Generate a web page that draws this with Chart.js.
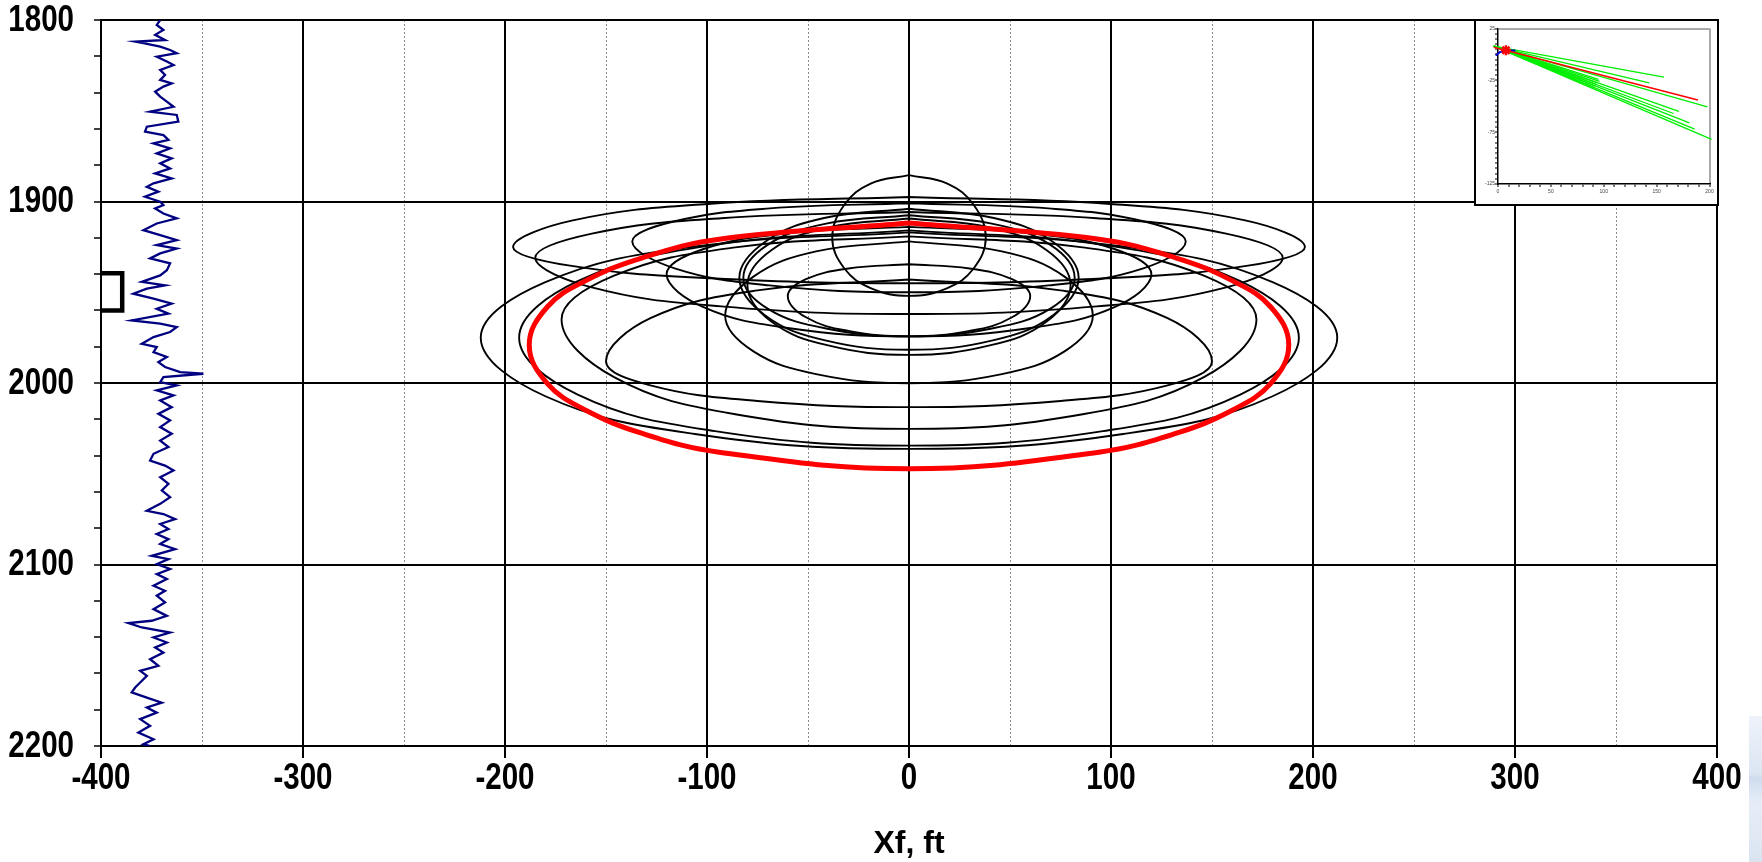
<!DOCTYPE html>
<html>
<head>
<meta charset="utf-8">
<title>Fracture geometry - Xf vs depth</title>
<script src="https://cdn.jsdelivr.net/npm/chart.js@4.4.1/dist/chart.umd.min.js"></script>
<style>
  html, body { margin: 0; padding: 0; background: #fff; }
  #wrap { position: relative; width: 1762px; height: 862px; overflow: hidden; background: #fff; }
  #main { position: absolute; left: 0; top: 0; }
  #insetBox { position: absolute; left: 1474px; top: 19px; width: 241px; height: 183px; border: 2px solid #000; background: #fff; }
  #inset { display: block; }
  #strip { position: absolute; left: 1749px; top: 716px; width: 13px; height: 146px;
           background: linear-gradient(#eef3fa, #dbe5f2 40%, #cfdcee 42%, #e6edf7 60%, #dae4f1); }
</style>
</head>
<body>
<div id="wrap">
  <canvas id="main" width="1762" height="862"></canvas>
  <div id="insetBox"><canvas id="inset" width="241" height="183"></canvas></div>
  <div id="strip"></div>
</div>
<script>
// gamma ray style log, depth (ft) vs plotted x position
const logDepth = [1800.0, 1802.7, 1805.5, 1808.2, 1811.0, 1811.9, 1812.8, 1814.7, 1816.5, 1818.3,
  1820.2, 1822.9, 1824.8, 1827.5, 1830.3, 1833.0, 1834.9, 1836.7, 1839.5, 1842.2,
  1845.0, 1847.8, 1850.5, 1852.3, 1856.0, 1858.8, 1861.5, 1863.4, 1866.1, 1868.0,
  1870.7, 1873.5, 1876.2, 1879.0, 1881.8, 1884.5, 1887.3, 1890.0, 1891.9, 1894.6,
  1897.4, 1900.1, 1902.0, 1903.8, 1906.6, 1909.3, 1912.1, 1915.8, 1918.5, 1921.3,
  1924.0, 1925.9, 1928.6, 1931.4, 1934.1, 1937.9, 1940.7, 1944.3, 1946.2, 1948.0,
  1950.8, 1953.5, 1956.3, 1959.1, 1961.8, 1965.5, 1967.3, 1969.2, 1971.9, 1974.7,
  1978.4, 1980.2, 1983.0, 1985.7, 1988.5, 1991.2, 1994.0, 1994.9, 1996.7, 1999.5,
  2001.3, 2004.1, 2006.8, 2009.6, 2013.3, 2017.0, 2020.6, 2024.3, 2028.0, 2031.7,
  2035.3, 2039.0, 2042.7, 2045.5, 2048.2, 2051.9, 2055.6, 2059.2, 2062.9, 2066.6,
  2070.4, 2072.2, 2075.0, 2077.7, 2080.5, 2083.2, 2086.0, 2088.7, 2091.5, 2095.2,
  2097.0, 2099.8, 2102.5, 2105.3, 2108.0, 2111.7, 2114.5, 2117.2, 2120.9, 2124.6,
  2128.3, 2131.0, 2132.3, 2134.7, 2137.5, 2140.2, 2143.0, 2145.7, 2148.5, 2152.2,
  2155.8, 2158.6, 2161.4, 2165.0, 2167.8, 2170.5, 2173.3, 2176.1, 2178.8, 2181.6,
  2185.2, 2188.9, 2192.6, 2196.3, 2199.0, 2200.0];
const logValue = [-370.7, -372.4, -369.1, -373.2, -368.3, -383.1, -379.0, -370.7, -365.8, -362.5,
  -372.4, -367.4, -364.1, -370.7, -368.3, -370.7, -365.0, -369.1, -373.2, -370.7,
  -367.4, -364.1, -375.7, -362.5, -361.7, -377.3, -378.2, -369.1, -366.6, -374.0,
  -365.8, -372.4, -365.0, -370.7, -365.8, -373.2, -365.0, -374.0, -377.3, -371.6,
  -378.2, -370.7, -369.1, -373.2, -369.1, -362.5, -372.4, -379.0, -370.7, -362.5,
  -372.4, -362.5, -370.7, -375.7, -365.8, -367.4, -370.7, -379.8, -368.3, -377.3,
  -384.0, -374.0, -365.0, -372.4, -366.6, -384.8, -370.7, -362.5, -365.8, -374.0,
  -379.8, -372.4, -374.0, -367.4, -371.6, -368.3, -360.8, -349.3, -369.1, -370.7,
  -362.5, -372.4, -364.1, -370.7, -365.0, -371.6, -365.8, -370.7, -365.0, -370.7,
  -366.6, -374.0, -375.7, -368.3, -364.1, -370.7, -366.6, -369.9, -365.8, -370.7,
  -377.3, -369.1, -363.3, -370.7, -366.6, -372.4, -366.6, -370.7, -363.3, -374.9,
  -366.6, -372.4, -365.8, -372.4, -367.4, -374.0, -368.3, -372.4, -368.3, -374.0,
  -367.4, -374.9, -386.4, -379.8, -365.8, -374.0, -367.4, -373.2, -369.1, -375.7,
  -371.6, -380.6, -377.3, -380.6, -383.1, -384.8, -377.3, -369.9, -377.3, -372.4,
  -380.6, -375.7, -381.5, -374.0, -379.0, -375.7];

// perforation interval bracket
const perfX = [-400, -389.5, -389.5, -400];
const perfY = [1939.5, 1939.5, 1960, 1960];

// final (red) fracture profile, [Xf, depth]
const finalProfile = [[0, 1911.8], [94, 1920.8], [132, 1931], [160, 1943.6], [179, 1958], [188, 1979],
  [179, 2000.3], [160, 2015], [132, 2027.8], [94, 2038.1], [0, 2047.3], [-94, 2038.1], [-132, 2027.8],
  [-160, 2015], [-179, 2000.3], [-188, 1979], [-179, 1958], [-160, 1943.6], [-132, 1931], [-94, 1920.8], [0, 1911.8]];

// intermediate fracture profiles, [Xf, depth]
const profile01 = [[0, 1885.5], [19, 1890.1], [32, 1901.8], [38, 1920], [32, 1936.9], [19, 1947.7], [0, 1952], [-19, 1947.7], [-32, 1936.9], [-38, 1920], [-32, 1901.8], [-19, 1890.1], [0, 1885.5]];
const profile02 = [[0, 1897.5], [98, 1901.2], [167, 1910.5], [196, 1925], [167, 1935.5], [98, 1942.3], [0, 1945], [-98, 1942.3], [-167, 1935.5], [-196, 1925], [-167, 1910.5], [-98, 1901.2], [0, 1897.5]];
const profile03 = [[0, 1901], [69, 1903.8], [116, 1910.9], [137, 1922], [116, 1936.8], [69, 1946.2], [0, 1950], [-69, 1946.2], [-116, 1936.8], [-137, 1922], [-116, 1910.9], [-69, 1903.8], [0, 1901]];
const profile04 = [[0, 1904], [42, 1909.1], [71, 1922], [84, 1942], [71, 1962.9], [42, 1976.4], [0, 1981.7], [-42, 1976.4], [-71, 1962.9], [-84, 1942], [-71, 1922], [-42, 1909.1], [0, 1904]];
const profile05 = [[0, 1905.8], [93, 1909.2], [157, 1917.7], [185, 1931], [157, 1947.3], [93, 1957.8], [0, 1962], [-93, 1957.8], [-157, 1947.3], [-185, 1931], [-157, 1917.7], [-93, 1909.2], [0, 1905.8]];
const profile06 = [[0, 1907.6], [41, 1912.2], [70, 1923.9], [82, 1942], [70, 1959], [41, 1970], [0, 1974.3], [-41, 1970], [-70, 1959], [-82, 1942], [-70, 1923.9], [-41, 1912.2], [0, 1907.6]];
const profile07 = [[0, 1909.4], [40, 1914.3], [68, 1926.7], [80, 1946], [68, 1966.3], [40, 1979.3], [0, 1984.5], [-40, 1979.3], [-68, 1966.3], [-80, 1946], [-68, 1926.7], [-40, 1914.3], [0, 1909.4]];
const profile08 = [[0, 1914], [60, 1917.5], [102, 1926.3], [120, 1940], [102, 1958.1], [60, 1969.7], [0, 1974.3], [-60, 1969.7], [-102, 1958.1], [-120, 1940], [-102, 1926.3], [-60, 1917.5], [0, 1914]];
const profile09 = [[0, 1915.9], [96, 1923.8], [164, 1943.9], [193, 1975], [164, 2006.4], [96, 2026.5], [0, 2034.5], [-96, 2026.5], [-164, 2006.4], [-193, 1975], [-164, 1943.9], [-96, 1923.8], [0, 1915.9]];
const profile10 = [[0, 1917], [106, 1924.8], [180, 1944.4], [212, 1975], [180, 2007.3], [106, 2028.1], [0, 2036.3], [-106, 2028.1], [-180, 2007.3], [-212, 1975], [-180, 1944.4], [-106, 1924.8], [0, 1917]];
const profile11 = [[0, 1919.2], [86, 1925.3], [146, 1940.9], [172, 1965], [146, 1996.8], [86, 2017.2], [0, 2025.3], [-86, 2017.2], [-146, 1996.8], [-172, 1965], [-146, 1940.9], [-86, 1925.3], [0, 1919.2]];
const profile12 = [[0, 1922], [46, 1927.5], [77, 1941.4], [91, 1963], [77, 1982.6], [46, 1995.1], [0, 2000.1], [-46, 1995.1], [-77, 1982.6], [-91, 1963], [-77, 1941.4], [-46, 1927.5], [0, 1922]];
const profile13 = [[0, 1934.6], [30, 1936.9], [51, 1942.8], [60, 1952], [51, 1963.8], [30, 1971.3], [0, 1974.3], [-30, 1971.3], [-51, 1963.8], [-60, 1952], [-51, 1942.8], [-30, 1936.9], [0, 1934.6]];
const profile14 = [[0, 1943], [75, 1949], [128, 1964.3], [150, 1988], [128, 2001.3], [75, 2009.9], [0, 2013.3], [-75, 2009.9], [-128, 2001.3], [-150, 1988], [-128, 1964.3], [-75, 1949], [0, 1943]];

// inset: well trajectories (green), selected well (red)
const greenStartX = -4;
const greenStartY = 8;
const greenEndX = [157, 143, 198, 171, 166, 181, 186, 202, 95, 96, 94, 93, 92, 90];
const greenEndY = [-22, -27.5, -50.6, -55, -57, -66, -72, -82, -24, -26, -27.5, -29, -30.5, -31.5];
const redLineX = [-4, 189];
const redLineY = [7, -44];
const blueX = [-2.2, 1.6, 11, 16.5];
const blueY = [-1, 2.2, 3.8, 3.8];
const starX = [7.5];
const starY = [4];

const toPts = arr => arr.map(p => ({ x: p[0], y: p[1] }));
const zip = (xs, ys) => xs.map((x, i) => ({ x: x, y: ys[i] }));

const profiles = [profile01, profile02, profile03, profile04, profile05, profile06, profile07,
  profile08, profile09, profile10, profile11, profile12, profile13, profile14];

const datasets = [];
datasets.push({
  data: toPts(finalProfile), showLine: true, borderColor: '#ff0000', borderWidth: 5,
  pointRadius: 0, tension: 0.4, order: 0
});
profiles.forEach(p => {
  datasets.push({
    data: toPts(p), showLine: true, borderColor: '#000', borderWidth: 1.9,
    pointRadius: 0, tension: 0.4, order: 1
  });
});
datasets.push({
  data: zip(logValue, logDepth), showLine: true, borderColor: '#000080', borderWidth: 2.3,
  pointRadius: 0, tension: 0, order: 2
});
datasets.push({
  data: zip(perfX, perfY), showLine: true, borderColor: '#000', borderWidth: 4.5,
  pointRadius: 0, tension: 0, order: 2
});

const major = v => v % 100 === 0;

// the reference uses a narrow bold face; no narrow font is installed,
// so the axis labels are drawn squeezed horizontally at the scale's tick pixels
function drawNarrow(ctx, text, px, py, align) {
  ctx.save();
  ctx.translate(px, py);
  ctx.scale(0.82, 1);
  ctx.textAlign = align;
  ctx.fillText(text, 0, 0);
  ctx.restore();
}
const narrowLabels = {
  id: 'narrowLabels',
  afterDraw(chart) {
    const ctx = chart.ctx;
    const xs = chart.scales.x, ys = chart.scales.y;
    ctx.save();
    ctx.fillStyle = '#000';
    ctx.font = "bold 36px 'Liberation Sans', Arial, sans-serif";
    ctx.textBaseline = 'middle';
    xs.ticks.forEach(t => {
      if (major(t.value)) drawNarrow(ctx, String(t.value), xs.getPixelForValue(t.value), xs.top + 33, 'center');
    });
    ys.ticks.forEach(t => {
      if (major(t.value)) drawNarrow(ctx, String(t.value), ys.right - 27, ys.getPixelForValue(t.value) + 1, 'right');
    });
    ctx.restore();
  }
};

new Chart(document.getElementById('main'), {
  type: 'scatter',
  data: { datasets: datasets },
  plugins: [narrowLabels],
  options: {
    responsive: false,
    animation: false,
    layout: { padding: { top: 20, right: 45, left: 0, bottom: 0 } },
    plugins: { legend: { display: false }, tooltip: { enabled: false } },
    scales: {
      x: {
        type: 'linear', min: -400, max: 400,
        ticks: { stepSize: 50, autoSkip: false, display: false },
        grid: {
          color: ctx => major(ctx.tick.value) ? '#000' : '#8c8c8c',
          lineWidth: ctx => major(ctx.tick.value) ? 2 : 1,
          tickLength: 12,
          tickColor: ctx => major(ctx.tick.value) ? '#000' : 'rgba(0,0,0,0)',
          tickWidth: 2
        },
        border: {
          color: '#000', width: 2,
          dash: ctx => (ctx.tick && !major(ctx.tick.value)) ? [2, 2] : []
        },
        title: {
          display: true, text: 'Xf, ft', color: '#000',
          font: { family: "'Liberation Sans', Arial, sans-serif", size: 32, weight: 'bold', lineHeight: 1 },
          padding: { top: 0, bottom: 2 }
        },
        afterFit: s => { s.height = 116; }
      },
      y: {
        type: 'linear', reverse: true, min: 1800, max: 2200,
        ticks: { stepSize: 20, autoSkip: false, display: false },
        grid: {
          color: ctx => major(ctx.tick.value) ? '#000' : 'rgba(0,0,0,0)',
          lineWidth: 2, tickLength: 7, tickColor: '#000', tickWidth: 1.5
        },
        border: { color: '#000', width: 2 },
        afterFit: s => { s.width = 101; }
      }
    }
  }
});

// inset chart
const insetClip = { left: 20, top: 4, right: 4, bottom: 0 };
const insetSets = [];
greenEndX.forEach((x, i) => {
  insetSets.push({
    data: zip([greenStartX, x], [greenStartY, greenEndY[i]]), showLine: true,
    borderColor: '#00ee00', borderWidth: 1.3, pointRadius: 0, order: 3, clip: insetClip
  });
});
insetSets.push({
  data: zip(redLineX, redLineY), showLine: true, borderColor: '#ff0000', borderWidth: 1.5,
  pointRadius: 0, order: 1, clip: insetClip
});
insetSets.push({
  data: zip(blueX, blueY), showLine: true, borderColor: '#0000cc', borderWidth: 2,
  pointRadius: 0, order: 2, clip: insetClip
});
insetSets.push({
  data: zip(starX, starY), showLine: false, pointStyle: 'star', pointRadius: 5,
  borderColor: '#ff0000', borderWidth: 2.5, backgroundColor: '#ff0000', order: 0, clip: insetClip
});

const smallFont = { family: "'Liberation Sans', Arial, sans-serif", size: 5, lineHeight: 1 };
new Chart(document.getElementById('inset'), {
  type: 'scatter',
  data: { datasets: insetSets },
  options: {
    responsive: false,
    animation: false,
    layout: { padding: { top: 3, right: 4, left: 0, bottom: 0 } },
    plugins: { legend: { display: false }, tooltip: { enabled: false } },
    scales: {
      x: {
        type: 'linear', min: 0, max: 200,
        ticks: { stepSize: 10, autoSkip: false, maxRotation: 0, color: '#444', font: smallFont, padding: 2,
          callback: v => v % 50 === 0 ? v : '' },
        grid: { color: ctx => ctx.tick.value === 200 ? '#aaa' : 'rgba(0,0,0,0)', lineWidth: 2,
          tickLength: 3, tickColor: '#000', tickWidth: 1 },
        border: { color: '#000', width: 1.5 },
        afterFit: s => { s.height = 20; }
      },
      y: {
        type: 'linear', min: -125, max: 25,
        ticks: { stepSize: 5, autoSkip: false, color: '#444', font: smallFont, padding: 0,
          callback: v => (v - 25) % 50 === 0 ? v : '' },
        grid: { color: ctx => ctx.tick.value === 25 ? '#aaa' : 'rgba(0,0,0,0)', lineWidth: 2,
          tickLength: 3, tickColor: '#000', tickWidth: 1 },
        border: { color: '#000', width: 1.5 },
        afterFit: s => { s.width = 22; }
      }
    }
  }
});
</script>
</body>
</html>
